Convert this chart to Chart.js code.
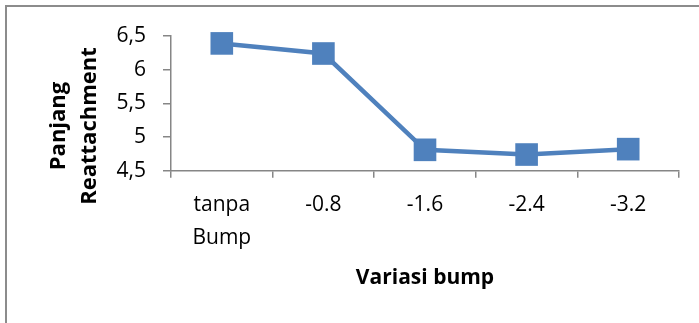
<!DOCTYPE html>
<html>
<head>
<meta charset="utf-8">
<script src="https://cdn.jsdelivr.net/npm/chart.js@4"></script>
<style>
  html, body { margin: 0; padding: 0; background: #fff; }
  #wrap { position: relative; width: 699px; height: 323px; overflow: hidden; }
  #frame { position: absolute; left: 5px; top: 5px; width: 720px; height: 340px;
           border-top: 2px solid #8c8c8c; border-left: 2px solid #8c8c8c; pointer-events: none; }
</style>
</head>
<body>
<div id="wrap">
  <canvas id="bump-chart" width="699" height="323"></canvas>
  <div id="frame"></div>
</div>
<script>
const kategori = [["tanpa", "Bump"], "-0.8", "-1.6", "-2.4", "-3.2"]; // x axis categories
const panjangReattachment = [6.39, 6.24, 4.81, 4.74, 4.82];
const yMin = 4.5, yMax = 6.5, yStep = 0.5;
const judulY = ["Panjang", "Reattachment"];
const judulX = "Variasi bump";

const abu = "#868686";
const biru = "#4F81BD";

// y title drawn by hand: Excel centres it on the whole chart, not the axis
const yTitlePlugin = {
  id: "yTitle",
  afterDraw(chart) {
    const ctx = chart.ctx;
    ctx.save();
    ctx.font = 'bold 22px "Open Sans"';
    ctx.fillStyle = "#000";
    ctx.textAlign = "center";
    ctx.textBaseline = "alphabetic";
    ctx.translate(0, 126);
    ctx.rotate(-Math.PI / 2);
    judulY.forEach((t, i) => ctx.fillText(t, 0, 65 + i * 31));
    ctx.restore();
  }
};

new Chart("bump-chart", {
  type: "line",
  data: {
    labels: kategori,
    datasets: [{
      data: panjangReattachment,
      borderColor: biru,
      backgroundColor: biru,
      borderWidth: 4.5,
      pointStyle: "rect",
      pointRadius: 16,
      pointHoverRadius: 16,
      pointBorderWidth: 0,
      pointBackgroundColor: biru,
      tension: 0,
      clip: false
    }]
  },
  options: {
    responsive: false,
    animation: false,
    layout: { padding: { top: 36, right: 20, left: 0, bottom: 0 } },
    plugins: { legend: { display: false }, tooltip: { enabled: false } },
    scales: {
      x: {
        offset: true,
        grid: { offset: true, drawOnChartArea: false, color: abu, lineWidth: 1.5, tickLength: 7 },
        border: { color: abu, width: 1.5 },
        ticks: {
          color: "#000",
          font: { family: "Open Sans", size: 21, lineHeight: 1.58 },
          padding: 11,
          maxRotation: 0,
          autoSkip: false
        },
        title: {
          display: true,
          text: judulX,
          color: "#000",
          font: { family: "Open Sans", size: 21, weight: "bold" },
          padding: { top: 0, bottom: 32 }
        },
        afterFit(scale) { scale.height = 152.3; }
      },
      y: {
        min: yMin,
        max: yMax,
        grid: { drawOnChartArea: false, color: abu, lineWidth: 1.5, tickLength: 8 },
        border: { color: abu, width: 1.5 },
        ticks: {
          stepSize: yStep,
          color: "#000",
          font: { family: "Open Sans", size: 21 },
          padding: 17,
          callback: v => String(v).replace(".", ",")
        },
        afterFit(scale) { scale.width = 171; }
      }
    }
  },
  plugins: [yTitlePlugin]
});
</script>
</body>
</html>
